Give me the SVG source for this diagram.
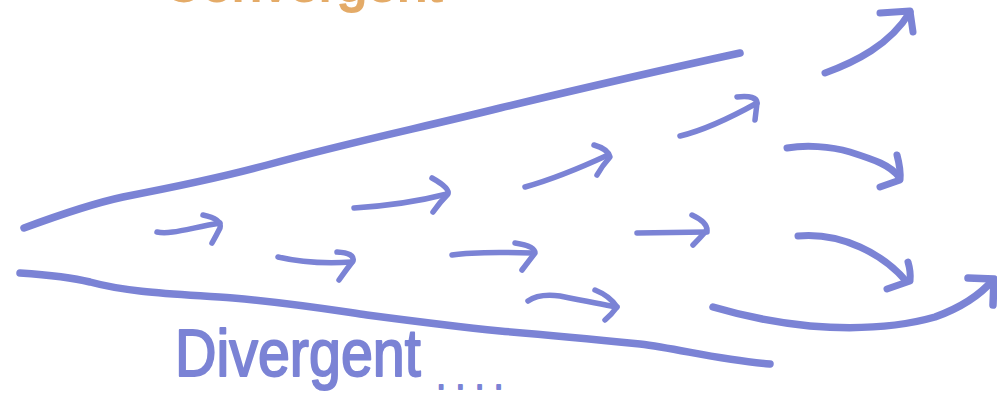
<svg xmlns="http://www.w3.org/2000/svg" width="997" height="417" viewBox="0 0 997 417">
<style>
.ln{fill:none;stroke:#7b83d5;stroke-linecap:round;stroke-linejoin:round}
.bd{stroke-width:7.5}
.ar{stroke-width:5.5}
.big{stroke-width:7}
.lbl{font-family:"Liberation Sans",Arial,sans-serif;fill:#7b83d5;stroke:#7b83d5;stroke-width:2;stroke-linejoin:round}
.org{font-family:"Liberation Sans",Arial,sans-serif;fill:#e4ab68;stroke:#e4ab68;stroke-width:2}
</style>
<rect width="997" height="417" fill="#ffffff"/>
<g id="title">
<text class="org" x="163" y="1" font-size="54">Convergent</text>
</g>
<g id="boundaries">
<path id="upper-line" class="ln bd" d="M24,228 C70,211 95,203 123,197 C170,188 220,178 267,165 C350,142 420,128 500,108 C600,84 680,66 740,53"/>
<path id="lower-line" class="ln bd" d="M20,273 C50,275 70,277 90,282 C130,293 180,294 233,298 C290,303 320,308 367,315 C420,322 460,327 500,331 C560,336 600,340 640,344 C680,349 720,360 770,364"/>
</g>
<g id="connectors">
<g id="a1"><path class="ln ar" d="M157,232 C170,235 190,228 220,223"/><path class="ln ar" d="M203,215 Q222,219 220,228 Q216,236 212,243"/></g>
<g id="a2"><path class="ln ar" d="M354,208 C385,206 420,201 447,194"/><path class="ln ar" d="M432,178 Q450,188 448,194 Q440,202 433,212"/></g>
<g id="a3"><path class="ln ar" d="M278,257 C295,261 320,264 352,262"/><path class="ln ar" d="M337,252 Q355,253 353,261 Q346,270 339,280"/></g>
<g id="a4"><path class="ln ar" d="M525,187 C550,180 580,168 608,155"/><path class="ln ar" d="M594,145 Q608,149 610,157 Q602,166 597,175"/></g>
<g id="a5"><path class="ln ar" d="M680,136 C705,130 730,118 757,103"/><path class="ln ar" d="M737,97 Q757,95 757,103 L755,120"/></g>
<g id="a6"><path class="ln big" d="M825,73 C855,62 890,45 910,12"/><path class="ln big" d="M880,13 L910,11 L913,32"/></g>
<g id="a7"><path class="ln big" d="M787,148 C805,145 830,146 850,152 C875,160 890,165 899,177"/><path class="ln big" d="M897,155 Q901,170 900,180 L880,187"/></g>
<g id="a8"><path class="ln big" d="M798,236 C820,234 840,238 860,247 C880,256 895,268 906,281"/><path class="ln big" d="M908,262 Q911,272 910,281 L887,289"/></g>
<g id="a9"><path class="ln bd" d="M713,307 C740,315 770,322 810,326 C860,330 900,327 935,317 C960,308 980,295 993,280"/><path class="ln bd" d="M968,278 L994,279 L993,305"/></g>
<g id="a10"><path class="ln ar" d="M452,255 C470,252 500,252 533,253"/><path class="ln ar" d="M515,243 Q535,246 535,253 Q528,262 522,270"/></g>
<g id="a11"><path class="ln ar" d="M528,301 C535,296 545,294 560,296 C580,300 600,304 617,307"/><path class="ln ar" d="M595,290 Q610,296 617,307 Q612,314 605,320"/></g>
<g id="a12"><path class="ln ar" d="M637,233 L707,232"/><path class="ln ar" d="M692,215 Q707,222 707,230 Q700,238 693,245"/></g>
</g>
<g id="label">
<text class="lbl" transform="translate(175,376) scale(0.87,1)" x="0" y="0" font-size="66">Divergent<tspan x="301" dy="13" font-size="36" letter-spacing="12">....</tspan></text>
</g>
</svg>
